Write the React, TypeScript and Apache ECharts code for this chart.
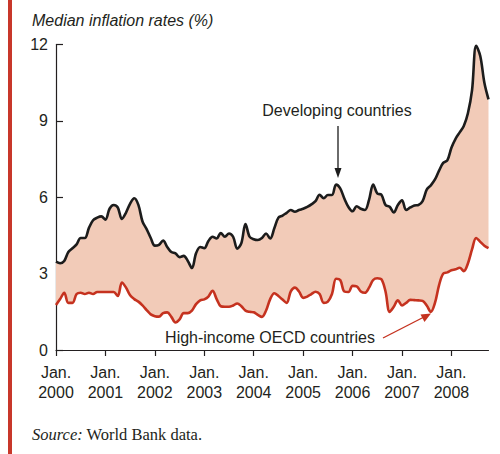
import React, { useEffect, useRef } from "react";
import * as echarts from "echarts";

const years = [2000, 2001, 2002, 2003, 2004, 2005, 2006, 2007, 2008];
const monthsInLastYear = 10; // Jan–Oct 2008

const developing = [
  3.47, 3.41, 3.5, 3.85, 4.0, 4.15, 4.4, 4.4, 4.8, 5.1, 5.2, 5.25,
  5.12, 5.55, 5.7, 5.6, 5.15, 5.4, 5.75, 5.96, 5.7, 5.05, 4.75, 4.4,
  4.1, 4.13, 4.3, 4.05, 3.85, 3.8, 3.65, 3.7, 3.5, 3.22, 3.8, 4.05,
  4.0, 4.28, 4.45, 4.38, 4.6, 4.45, 4.58, 4.45, 3.98, 4.2, 4.95, 4.45,
  4.35, 4.32, 4.4, 4.58, 4.38, 4.78, 5.2, 5.28, 5.39, 5.5, 5.43, 5.5,
  5.55, 5.62, 5.72, 5.85, 6.1, 5.96, 6.09, 6.09, 6.5, 6.35, 5.95, 5.62,
  5.45, 5.65, 5.55, 5.5, 5.9, 6.5, 6.15, 6.1, 5.7, 5.63, 5.4, 5.7,
  5.88, 5.5, 5.6, 5.68, 5.7, 5.85, 6.3, 6.47, 6.7, 7.05, 7.35, 7.45,
  7.95, 8.3, 8.55, 8.8, 9.3, 10.2, 11.95, 11.55, 10.5, 9.85,
];

const highIncome = [
  1.77, 2.0, 2.25, 1.85, 1.85, 2.2, 2.25, 2.2, 2.25, 2.2, 2.28, 2.28,
  2.28, 2.28, 2.28, 2.12, 2.65, 2.45, 2.15, 2.0, 1.9, 1.75, 1.57, 1.4,
  1.33, 1.31, 1.45, 1.48, 1.3, 1.08, 1.2, 1.45, 1.45, 1.55, 1.8, 1.95,
  1.99, 2.1, 2.33, 2.0, 1.72, 1.7, 1.7, 1.75, 1.83, 1.72, 1.55, 1.5,
  1.48, 1.38, 1.3, 1.55, 2.0, 2.23, 2.12, 1.98, 1.85, 2.3, 2.45, 2.3,
  2.05, 2.1, 2.2, 2.29, 2.2, 1.85, 1.9, 2.2, 2.8, 2.75, 2.3, 2.28,
  2.52, 2.5, 2.3, 2.25, 2.45, 2.75, 2.82, 2.78, 2.3, 1.5, 1.7, 1.95,
  1.75, 1.85, 1.97, 1.96, 1.95, 1.93, 1.75, 1.5, 1.85, 2.55, 3.0, 3.05,
  3.13, 3.17, 3.23, 3.1, 3.4, 3.95, 4.4, 4.25, 4.1, 4.0,
];

const yTicks = [0, 3, 6, 9, 12];

const TEXT = "#231f20";
const RED = "#c5321f";
const BLACK = "#1c1c1c";
const FILL = "#f2cbb8";
const SANS = "'Liberation Sans', Arial, Helvetica, sans-serif";
const SERIF = "'Liberation Serif', 'Times New Roman', serif";

export default function App() {
  const ref = useRef<HTMLDivElement>(null);

  useEffect(() => {
    if (!ref.current) return;
    const chart = echarts.init(ref.current, null, { renderer: "svg" });

    const months: string[] = [];
    years.forEach((y, yi) => {
      const n = yi === years.length - 1 ? monthsInLastYear : 12;
      for (let m = 1; m <= n; m++) months.push(`${y}-${String(m).padStart(2, "0")}`);
    });
    const band = developing.map((v, i) => +(v - highIncome[i]).toFixed(3));
    const smooth = 0.35;

    chart.setOption({
      animation: false,
      backgroundColor: "#ffffff",
      grid: { left: 56, right: 11.5, top: 44.6, bottom: 104, containLabel: false },
      xAxis: {
        type: "category",
        data: months,
        boundaryGap: false,
        axisLine: { show: true, lineStyle: { color: TEXT, width: 1.2 } },
        axisTick: {
          show: true,
          interval: (i: number) => i % 12 === 0,
          length: 6,
          lineStyle: { color: TEXT, width: 1.2 },
        },
        axisLabel: {
          interval: (i: number) => i % 12 === 0,
          formatter: (v: string) => `Jan.\n${v.slice(0, 4)}`,
          color: TEXT,
          fontSize: 16,
          fontFamily: SANS,
          lineHeight: 20,
          margin: 12,
        },
        splitLine: { show: false },
      },
      yAxis: {
        type: "value",
        min: yTicks[0],
        max: yTicks[yTicks.length - 1],
        interval: 3,
        axisLine: { show: true, lineStyle: { color: TEXT, width: 1.2 } },
        axisTick: { show: true, inside: true, length: 7, lineStyle: { color: TEXT, width: 1.2 } },
        axisLabel: { color: TEXT, fontSize: 16, fontFamily: SANS, margin: 8 },
        splitLine: { show: false },
      },
      series: [
        {
          type: "line",
          data: highIncome,
          stack: "band",
          symbol: "none",
          smooth,
          lineStyle: { opacity: 0 },
          silent: true,
        },
        {
          type: "line",
          data: band,
          stack: "band",
          symbol: "none",
          smooth,
          lineStyle: { opacity: 0 },
          areaStyle: { color: FILL, opacity: 1 },
          silent: true,
        },
        {
          name: "High-income OECD countries",
          type: "line",
          data: highIncome,
          symbol: "none",
          smooth,
          lineStyle: { color: RED, width: 2.6 },
          z: 3,
        },
        {
          name: "Developing countries",
          type: "line",
          data: developing,
          symbol: "none",
          smooth,
          lineStyle: { color: BLACK, width: 2.6 },
          z: 4,
        },
      ],
      graphic: [
        { type: "rect", shape: { x: 8, y: 0, width: 4, height: 454 }, style: { fill: "#c8372a" } },
        {
          type: "text",
          x: 32,
          y: 20,
          style: {
            text: "Median inflation rates (%)",
            font: `italic 16px ${SANS}`,
            fill: TEXT,
            verticalAlign: "middle",
          },
        },
        {
          type: "text",
          x: 337,
          y: 110,
          style: {
            text: "Developing countries",
            font: `16px ${SANS}`,
            fill: TEXT,
            align: "center",
            verticalAlign: "middle",
          },
        },
        {
          type: "line",
          shape: { x1: 338, y1: 126, x2: 338, y2: 172 },
          style: { stroke: BLACK, lineWidth: 1.3 },
        },
        {
          type: "polygon",
          shape: { points: [[334.5, 168], [341.5, 168], [338, 178]] },
          style: { fill: BLACK },
        },
        {
          type: "text",
          x: 270,
          y: 337,
          style: {
            text: "High-income OECD countries",
            font: `16px ${SANS}`,
            fill: TEXT,
            align: "center",
            verticalAlign: "middle",
          },
        },
        {
          type: "line",
          shape: { x1: 383, y1: 338, x2: 424, y2: 317 },
          style: { stroke: RED, lineWidth: 1.4 },
        },
        {
          type: "polygon",
          shape: { points: [[431, 313.5], [420.5, 314.5], [424.5, 322]] },
          style: { fill: RED },
        },
        {
          type: "text",
          x: 32,
          y: 434,
          style: {
            text: "{i|Source:} World Bank data.",
            font: `16.5px ${SERIF}`,
            fill: TEXT,
            verticalAlign: "middle",
            rich: {
              i: { fontStyle: "italic", fontFamily: SERIF, fontSize: 16.5, fill: TEXT },
            },
          },
        },
      ],
    });

    return () => chart.dispose();
  }, []);

  return (
    <div
      ref={ref}
      style={{ position: "fixed", left: 0, top: 0, width: 500, height: 454, background: "#fff" }}
    />
  );
}
